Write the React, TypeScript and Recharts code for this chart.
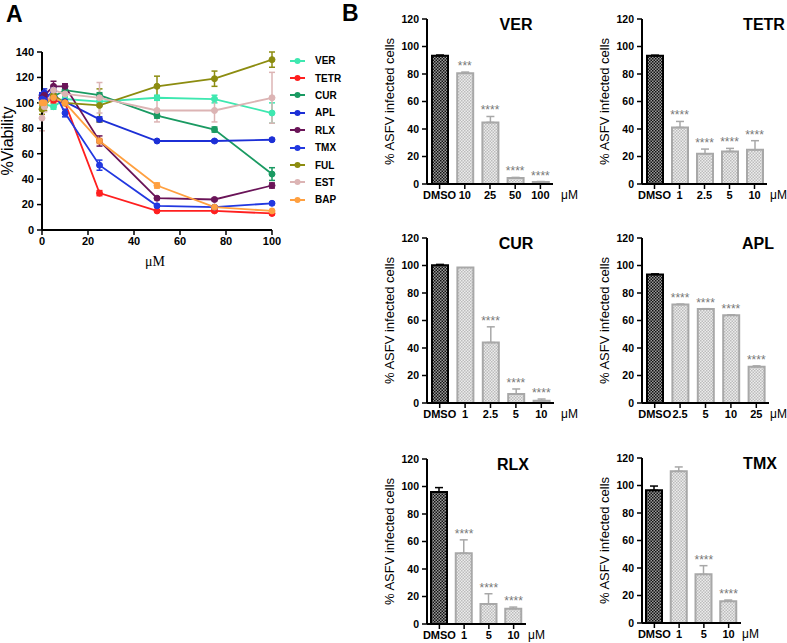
import React from 'react';
import { ComposedChart, LineChart, Line, Bar, XAxis, YAxis, ErrorBar, Cell, LabelList, Legend } from 'recharts';

const FONT = '"Liberation Sans", Arial, Helvetica, sans-serif';

// ---------- Panel A : viability ----------
const doses = [0, 1, 5, 10, 25, 50, 75, 100];
const viabilityTicksX = [0, 20, 40, 60, 80, 100];
const viabilityTicksY = [0, 20, 40, 60, 80, 100, 120, 140];

const verViability = [100, 99, 97, 103, 101, 104, 103, 92];
const verViabilityErr = [3, 2, 2, 2, 3, 2, 3, 8];
const tetrViability = [104, 103, 102, 100, 29, 15, 15, 13];
const tetrViabilityErr = [3, 2, 2, 2, 2, 1, 1, 1];
const curViability = [100, 101, 105, 110, 106, 90, 79, 44];
const curViabilityErr = [2, 2, 2, 2, 2, 2, 2, 5];
const aplViability = [106, 108, 104, 101, 87, 70, 70, 71];
const aplViabilityErr = [2, 3, 2, 2, 2, 1, 1, 1];
const rlxViability = [104, 106, 113, 113, 70, 25, 24, 35];
const rlxViabilityErr = [2, 2, 4, 2, 4, 1, 1, 2];
const tmxViability = [103, 102, 110, 92, 51, 19, 18, 21];
const tmxViabilityErr = [2, 2, 3, 3, 4, 1, 1, 1];
const fulViability = [95, 97, 106, 100, 98, 113, 119, 134];
const fulViabilityErr = [4, 3, 3, 2, 13, 8, 6, 6];
const estViability = [88, 97, 110, 107, 104, 94, 94, 104];
const estViabilityErr = [10, 4, 4, 3, 12, 9, 9, 20];
const bapViability = [100, 100, 104, 100, 70, 35, 18, 15];
const bapViabilityErr = [2, 2, 2, 2, 2, 2, 1, 1];

const drugNames = ['VER', 'TETR', 'CUR', 'APL', 'RLX', 'TMX', 'FUL', 'EST', 'BAP'];
const drugColors = ['#3ee8b0', '#ff1f1f', '#1a9a62', '#1c2fd6', '#6a1458', '#2238e0', '#8c8c10', '#dcb4b4', '#ffa040'];

const viabilitySeries = [
  { name: 'VER', values: verViability, errors: verViabilityErr },
  { name: 'TETR', values: tetrViability, errors: tetrViabilityErr },
  { name: 'CUR', values: curViability, errors: curViabilityErr },
  { name: 'APL', values: aplViability, errors: aplViabilityErr },
  { name: 'RLX', values: rlxViability, errors: rlxViabilityErr },
  { name: 'TMX', values: tmxViability, errors: tmxViabilityErr },
  { name: 'FUL', values: fulViability, errors: fulViabilityErr },
  { name: 'EST', values: estViability, errors: estViabilityErr },
  { name: 'BAP', values: bapViability, errors: bapViabilityErr },
];

const viabilityRows = doses.map((d, i) => {
  const r: any = { dose: d };
  viabilitySeries.forEach((s) => {
    r[s.name] = s.values[i];
    r[s.name + '_err'] = s.errors[i];
  });
  return r;
});

// ---------- Panel B : infection bars ----------
const barTicksY = [0, 20, 40, 60, 80, 100, 120];

const verLabels = ['DMSO', '10', '25', '50', '100'];
const verValues = [93.3, 80.6, 44.8, 4.4, 1.5];
const verErrors = [0.5, 0.8, 4.3, 0.4, 0.3];
const verStars = ['', '***', '****', '****', '****'];

const tetrLabels = ['DMSO', '1', '2.5', '5', '10'];
const tetrValues = [93.2, 41.1, 22, 23.7, 24.9];
const tetrErrors = [0.5, 4.4, 3.4, 2.2, 6.6];
const tetrStars = ['', '****', '****', '****', '****'];

const curLabels = ['DMSO', '1', '2.5', '5', '10'];
const curValues = [100.2, 98.5, 44, 6.5, 1.7];
const curErrors = [0.6, 0, 11.4, 3.7, 1.2];
const curStars = ['', '', '****', '****', '****'];

const aplLabels = ['DMSO', '2.5', '5', '10', '25'];
const aplValues = [93.4, 71.6, 68.3, 63.9, 26.4];
const aplErrors = [0.5, 0.3, 0.3, 0.3, 0.6];
const aplStars = ['', '****', '****', '****', '****'];

const rlxLabels = ['DMSO', '1', '5', '10'];
const rlxValues = [96, 51.5, 14.5, 11.1];
const rlxErrors = [3.2, 9.7, 7.5, 1.2];
const rlxStars = ['', '****', '****', '****'];

const tmxLabels = ['DMSO', '1', '5', '10'];
const tmxValues = [96.5, 110.3, 35.4, 15.8];
const tmxErrors = [3.1, 3.2, 6.3, 0.9];
const tmxStars = ['', '', '****', '****'];

type PanelProps = {
  id: string;
  title: string;
  labels: string[];
  values: number[];
  errors: number[];
  stars: string[];
  axisX: number;
  plotTop: number;
  plotW: number;
  titleX: number;
  unitX: number;
};

const PLOT_H = 165;
const YW = 50;
const MT = 12;
const XH = 26;
const MB = 2;
const MR = 3;

function BarPanel(p: PanelProps) {
  const rows = p.labels.map((c, i) => ({
    cat: c,
    value: p.values[i],
    errD: i === 0 ? [0, p.errors[i]] : null,
    errT: i > 0 && p.errors[i] > 0 ? [0, p.errors[i]] : null,
    top: p.values[i] + p.errors[i],
    stars: p.stars[i],
  }));
  const width = YW + p.plotW + MR;
  const height = MT + PLOT_H + XH + MB;
  const axisStyle = { stroke: '#000', strokeWidth: 2 };
  return (
    <>
      <div style={{ position: 'absolute', left: p.axisX - YW, top: p.plotTop - MT, width, height }}>
        <ComposedChart width={width} height={height} data={rows} margin={{ top: MT, right: MR, bottom: MB, left: 0 }}>
          <defs>
            <pattern id={`dk-${p.id}`} patternUnits="userSpaceOnUse" width={3} height={3}>
              <rect x={0} y={0} width={3} height={3} fill="#9a9a9a" />
              <rect x={0} y={0} width={1.5} height={1.5} fill="#111" />
              <rect x={1.5} y={1.5} width={1.5} height={1.5} fill="#111" />
            </pattern>
            <pattern id={`lt-${p.id}`} patternUnits="userSpaceOnUse" width={3} height={3}>
              <rect x={0} y={0} width={3} height={3} fill="#ececec" />
              <rect x={0} y={0} width={1.5} height={1.5} fill="#bcbcbc" />
              <rect x={1.5} y={1.5} width={1.5} height={1.5} fill="#bcbcbc" />
            </pattern>
          </defs>
          <XAxis
            dataKey="cat"
            height={XH}
            interval={0}
            tickSize={5}
            tickMargin={2}
            axisLine={axisStyle}
            tickLine={{ stroke: '#000', strokeWidth: 1.5 }}
            tick={{ fontSize: 11, fontWeight: 'bold', fill: '#000', fontFamily: FONT }}
          />
          <YAxis
            width={YW}
            domain={[0, 120]}
            ticks={barTicksY}
            interval={0}
            tickSize={5}
            tickMargin={3}
            axisLine={axisStyle}
            tickLine={{ stroke: '#000', strokeWidth: 1.5 }}
            tick={{ fontSize: 10.5, fontWeight: 'bold', fill: '#000', fontFamily: FONT }}
            label={{
              value: '% ASFV infected cells',
              angle: -90,
              position: 'insideLeft',
              offset: 12,
              style: { textAnchor: 'middle', fontSize: 13, fill: '#000', fontFamily: FONT },
            }}
          />
          <Bar dataKey="value" barSize={16} isAnimationActive={false}>
            {rows.map((r, i) => (
              <Cell
                key={i}
                fill={i === 0 ? `url(#dk-${p.id})` : `url(#lt-${p.id})`}
                stroke={i === 0 ? '#000' : '#a8a8a8'}
                strokeWidth={2}
              />
            ))}
            <ErrorBar dataKey="errD" stroke="#000" strokeWidth={1.5} width={4} direction="y" />
            <ErrorBar dataKey="errT" stroke="#a8a8a8" strokeWidth={1.5} width={4} direction="y" />
          </Bar>
          <Line
            dataKey="top"
            stroke="none"
            strokeWidth={0}
            dot={false}
            activeDot={false}
            legendType="none"
            isAnimationActive={false}
          >
            <LabelList dataKey="stars" position="top" offset={2} style={{ fontSize: 12, fill: '#777', fontFamily: FONT }} />
          </Line>
        </ComposedChart>
      </div>
      <div
        style={{
          position: 'absolute',
          left: p.titleX - 40,
          width: 80,
          top: p.plotTop - 3,
          textAlign: 'center',
          fontSize: 16,
          fontWeight: 'bold',
          lineHeight: '18px',
          fontFamily: FONT,
        }}
      >
        {p.title}
      </div>
      <div
        style={{
          position: 'absolute',
          left: p.unitX,
          top: p.plotTop + PLOT_H + 5,
          fontSize: 12,
          lineHeight: '13px',
          fontFamily: FONT,
        }}
      >
        μM
      </div>
    </>
  );
}

function ViabilityLegend(props: any) {
  const payload = (props.payload || []).slice().sort(
    (a: any, b: any) => drugNames.indexOf(a.value) - drugNames.indexOf(b.value)
  );
  return (
    <div style={{ fontFamily: FONT, fontSize: 10, fontWeight: 'bold' }}>
      {payload.map((e: any) => (
        <div key={e.value} style={{ display: 'flex', alignItems: 'center', height: 17.4 }}>
          <svg width={20} height={10}>
            <line x1={2} y1={5} x2={17} y2={5} stroke={e.color} strokeWidth={2} />
            <circle cx={9.5} cy={5} r={3} fill={e.color} />
          </svg>
          <span style={{ marginLeft: 7 }}>{e.value}</span>
        </div>
      ))}
    </div>
  );
}

function ViabilityPanel() {
  const axisStyle = { stroke: '#000', strokeWidth: 2 };
  return (
    <div style={{ position: 'absolute', left: 0, top: 0, width: 290, height: 280 }}>
      <LineChart width={290} height={280} data={viabilityRows} margin={{ top: 52, right: 18, bottom: 20, left: 0 }}>
        <XAxis
          type="number"
          dataKey="dose"
          domain={[0, 100]}
          ticks={viabilityTicksX}
          interval={0}
          height={30}
          tickSize={5}
          tickMargin={2}
          axisLine={axisStyle}
          tickLine={{ stroke: '#000', strokeWidth: 1.5 }}
          tick={{ fontSize: 11, fontWeight: 'bold', fill: '#000', fontFamily: FONT }}
        />
        <YAxis
          width={42}
          domain={[0, 140]}
          ticks={viabilityTicksY}
          interval={0}
          tickSize={5}
          tickMargin={3}
          axisLine={axisStyle}
          tickLine={{ stroke: '#000', strokeWidth: 1.5 }}
          tick={{ fontSize: 11, fontWeight: 'bold', fill: '#000', fontFamily: FONT }}
          label={{
            value: '%Viability',
            angle: -90,
            position: 'insideLeft',
            offset: 7,
            style: { textAnchor: 'middle', fontSize: 16, fill: '#000', fontFamily: FONT },
          }}
        />
        <Legend
          layout="vertical"
          align="center"
          verticalAlign="middle"
          content={ViabilityLegend}
          wrapperStyle={{ left: 288, top: 52, width: 70, height: 160 }}
        />
        {viabilitySeries.map((s) => {
          const color = drugColors[drugNames.indexOf(s.name)];
          return (
            <Line
              key={s.name}
              type="linear"
              dataKey={s.name}
              name={s.name}
              stroke={color}
              strokeWidth={1.8}
              dot={{ r: 3, fill: color, stroke: color, strokeWidth: 1 }}
              activeDot={false}
              isAnimationActive={false}
            >
              <ErrorBar dataKey={s.name + '_err'} stroke={color} strokeWidth={1.5} width={3} direction="y" />
            </Line>
          );
        })}
      </LineChart>
    </div>
  );
}

export default function App() {
  return (
    <div
      style={{
        position: 'absolute',
        left: 0,
        top: 0,
        width: 787,
        height: 643,
        background: '#fff',
        fontFamily: FONT,
        overflow: 'hidden',
      }}
    >
      <div style={{ position: 'absolute', left: 6, top: 2, fontSize: 23, fontWeight: 'bold', lineHeight: '24px' }}>A</div>
      <div style={{ position: 'absolute', left: 342, top: 1, fontSize: 23, fontWeight: 'bold', lineHeight: '24px' }}>B</div>
      <ViabilityPanel />
      <div
        style={{
          position: 'absolute',
          left: 145,
          top: 254,
          fontSize: 14,
          lineHeight: '16px',
          fontFamily: '"Liberation Serif", "Times New Roman", serif',
        }}
      >
        μM
      </div>
      <BarPanel id="ver" title="VER" labels={verLabels} values={verValues} errors={verErrors} stars={verStars}
        axisX={427} plotTop={19} plotW={126} titleX={516} unitX={561} />
      <BarPanel id="tetr" title="TETR" labels={tetrLabels} values={tetrValues} errors={tetrErrors} stars={tetrStars}
        axisX={642} plotTop={19} plotW={125} titleX={764} unitX={770} />
      <BarPanel id="cur" title="CUR" labels={curLabels} values={curValues} errors={curErrors} stars={curStars}
        axisX={427} plotTop={238} plotW={127} titleX={516} unitX={561} />
      <BarPanel id="apl" title="APL" labels={aplLabels} values={aplValues} errors={aplErrors} stars={aplStars}
        axisX={642} plotTop={238} plotW={127} titleX={758} unitX={770} />
      <BarPanel id="rlx" title="RLX" labels={rlxLabels} values={rlxValues} errors={rlxErrors} stars={rlxStars}
        axisX={427} plotTop={459} plotW={99} titleX={513} unitX={528} />
      <BarPanel id="tmx" title="TMX" labels={tmxLabels} values={tmxValues} errors={tmxErrors} stars={tmxStars}
        axisX={642} plotTop={458} plotW={99} titleX={760} unitX={742} />
    </div>
  );
}
